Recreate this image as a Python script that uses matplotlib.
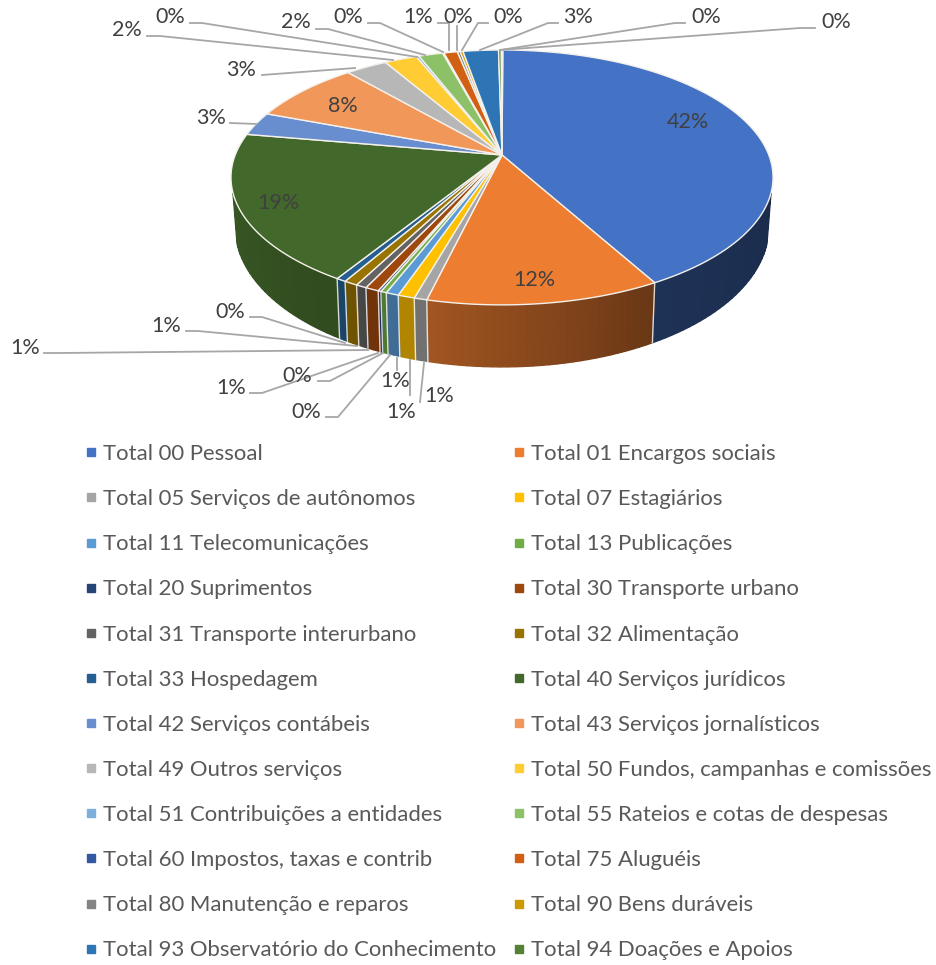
import matplotlib
matplotlib.use("Agg")
import matplotlib.pyplot as plt
from matplotlib.lines import Line2D
import numpy as np

plt.rcParams["font.family"] = ["Lato", "DejaVu Sans"]

# Legend entries in the order of the slices
categories = [
    "Total 00 Pessoal", "Total 01 Encargos sociais", "Total 05 Serviços de autônomos",
    "Total 07 Estagiários", "Total 11 Telecomunicações", "Total 13 Publicações",
    "Total 20 Suprimentos", "Total 30 Transporte urbano", "Total 31 Transporte interurbano",
    "Total 32 Alimentação", "Total 33 Hospedagem", "Total 40 Serviços jurídicos",
    "Total 42 Serviços contábeis", "Total 43 Serviços jornalísticos", "Total 49 Outros serviços",
    "Total 50 Fundos, campanhas e comissões", "Total 51 Contribuições a entidades",
    "Total 55 Rateios e cotas de despesas", "Total 60 Impostos, taxas e contrib", "Total 75 Aluguéis",
    "Total 80 Manutenção e reparos", "Total 90 Bens duráveis",
    "Total 93 Observatório do Conhecimento", "Total 94 Doações e Apoios",
]

# Shares (last one has a label but no legend row)
values = [41.9, 11.8, 0.65, 0.85, 0.65, 0.3, 0.15, 0.7, 0.55, 0.7, 0.5, 18.95,
          3.0, 7.9, 2.95, 2.3, 0.2, 1.7, 0.1, 0.95, 0.2, 0.2, 2.5, 0.2, 0.1]

pct_labels = ["42%", "12%", "1%", "1%", "1%", "0%", "0%", "1%", "1%", "1%", "0%", "19%",
              "3%", "8%", "3%", "2%", "0%", "2%", "0%", "1%", "0%", "0%", "3%", "0%", "0%"]

colors = ["#4472C4", "#ED7D31", "#A5A5A5", "#FFC000", "#5B9BD5", "#70AD47", "#264478", "#9E480E",
          "#636363", "#997300", "#255E91", "#43682B", "#698ED0", "#F1975A", "#B7B7B7", "#FFCD33",
          "#7CAFDD", "#8CC168", "#335AA1", "#D26012", "#848484", "#CC9A00", "#2E75B6", "#548235",
          "#8CC168"]

# Label centre, then leader line points (none for labels sitting on the slice)
label_pos = [
    ((688, 122), None),
    ((534, 280), None),
    ((439, 396), [(420, 402), (424, 363)]),
    ((401, 412), [(410, 395), (410, 360)]),
    ((395, 381), [(397, 370), (397, 358)]),
    ((306, 412), [(326, 417), (338, 417), (390, 355)]),
    ((297, 376), [(318, 381), (330, 381), (383, 353)]),
    ((231, 388), [(250, 393), (262, 393), (378, 353)]),
    ((25, 348), [(44, 353), (60, 353), (368, 350)]),
    ((166, 326), [(186, 331), (198, 331), (357, 346)]),
    ((230, 312), [(250, 317), (262, 317), (345, 343)]),
    ((278, 203), None),
    ((211, 118), [(230, 123), (257, 124)]),
    ((343, 106), None),
    ((241, 70), [(262, 75), (355, 68)]),
    ((127, 30), [(147, 36), (160, 36), (393, 60)]),
    ((170, 17), [(190, 23), (202, 23), (417, 57)]),
    ((296, 22), [(316, 29), (328, 29), (425, 55)]),
    ((348, 17), [(368, 23), (380, 23), (443, 52)]),
    ((418, 17), [(438, 23), (449, 23), (449, 50)]),
    ((458, 17), [(457, 26), (457, 50)]),
    ((508, 17), [(488, 23), (478, 23), (462, 50)]),
    ((578, 17), [(558, 23), (548, 23), (480, 50)]),
    ((706, 17), [(685, 23), (675, 23), (500, 50)]),
    ((836, 22), [(815, 28), (800, 28), (500, 50)]),
]

# Perspective of the tilted pie: centre and scales in pixels
cx, cy = 502, 155
scale_x, scale_y, persp = 266.8, 123.5, 0.176


def project(theta):
    # theta in degrees, clockwise from the top of the pie
    t = np.radians(theta)
    d = 1 + persp * np.cos(t)
    return cx + scale_x * np.sin(t) / d, cy - scale_y * np.cos(t) / d


def project_low(theta):
    # lower rim: a bit narrower, and the wall gets taller towards the viewer
    x, y = project(theta)
    return cx + 0.985 * (x - cx), y + 46 - 16 * np.cos(np.radians(theta))


fig = plt.figure(figsize=(9.36, 9.65), dpi=100)
ax = fig.add_axes([0, 0, 1, 1])
ax.set_xlim(0, 936)
ax.set_ylim(965, 0)
ax.axis("off")

edges = np.concatenate([[0], np.cumsum(values)]) / sum(values) * 360 + 0.2

# Side wall, only the part facing the viewer
wall_start, wall_end = 107, 253
for i, col in enumerate(colors):
    lo, hi = max(edges[i], wall_start), min(edges[i + 1], wall_end)
    if lo >= hi:
        continue
    steps = np.linspace(lo, hi, int((hi - lo) / 1.5) + 2)
    for t0, t1 in zip(steps[:-1], steps[1:]):
        shade = np.interp((t0 + t1) / 2, [101, 151, 193, 258], [0.38, 0.44, 0.68, 0.84])
        rgb = np.array(matplotlib.colors.to_rgb(col)) * shade
        arc = np.linspace(t0, t1, 4)
        xt, yt = project(arc)
        xb, yb = project_low(arc)
        ax.fill(np.r_[xt, xb[::-1]], np.r_[yt, yb[::-1]], facecolor=rgb, edgecolor=rgb, lw=1, zorder=1)

for t in edges:
    if wall_start < t < wall_end:
        x0, y0 = project(t)
        x1, y1 = project_low(t)
        ax.plot([x0, x1], [y0, y1], color="white", lw=1, alpha=0.8, zorder=2)

# Top face
for i, col in enumerate(colors):
    arc = np.linspace(edges[i], edges[i + 1], max(int(values[i] * 3), 2) + 1)
    xs, ys = project(arc)
    ax.fill(np.r_[cx, xs], np.r_[cy, ys], facecolor=col, edgecolor="#F4F1EC", lw=1, zorder=3)

# Data labels
for txt, (pos, leader) in zip(pct_labels, label_pos):
    ax.text(pos[0], pos[1], txt, fontsize=15.5, color="#404040", ha="center", va="center", zorder=6)
    if leader:
        ax.plot([p[0] for p in leader], [p[1] for p in leader], color="#A6A6A6", lw=1.3, zorder=5)

# Legend, filled row by row like the original
handles = [Line2D([], [], ls="", marker="s", ms=6.3, color=c, label=n) for c, n in zip(colors, categories)]
handles = handles[0::2] + handles[1::2]
ax.legend(handles=handles, ncol=2, loc="upper left", bbox_to_anchor=(69, 433), bbox_transform=ax.transData,
          frameon=False, fontsize=15.9, labelcolor="#595959", labelspacing=1.138, handletextpad=0.05,
          columnspacing=0.5, borderpad=0, handlelength=1)

fig.savefig("out.png", dpi=100)
